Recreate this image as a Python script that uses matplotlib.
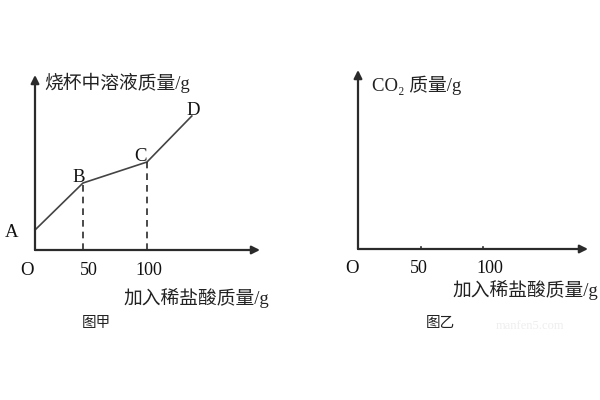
import matplotlib
matplotlib.use("Agg")
import matplotlib.pyplot as plt
import numpy as np

plt.rcParams['font.family'] = ['Liberation Serif', 'Noto Sans CJK SC', 'DejaVu Sans']

# curve in 图甲: acid added (g) vs solution mass (arbitrary units)
point_names = ['A', 'B', 'C', 'D']
acid_x = [0, 50, 100, 135]
solution_y = [20, 67, 88, 134]
tick_vals = [50, 100]
tick_labels = ['50', '100']

xlabel = '加入稀盐酸质量/g'
ylabel_left = '烧杯中溶液质量/g'
ylabel_right = 'CO₂ 质量/g'
titles = ['图甲', '图乙']

# the hand-drawn x axis of 图甲 is not evenly spaced
knots_val = [0, 50, 100, 300]
knots_pos = [0, 48, 112, 112 + 200 * 1.28]

fig = plt.figure(figsize=(6, 4), dpi=100)
ink = '#2b2b2b'


def draw_axes(ax, ymax):
    ax.set_ylim(0, ymax)
    for s in ax.spines.values():
        s.set_visible(False)
    ax.set_xticks([])
    ax.set_yticks([])
    ax.patch.set_alpha(0)
    ax.annotate('', xy=(1, 0), xytext=(0, 0), xycoords='axes fraction',
                arrowprops=dict(arrowstyle='-|>', color=ink, lw=1.6,
                                mutation_scale=12, shrinkA=0, shrinkB=0))
    ax.annotate('', xy=(0, 1), xytext=(0, 0), xycoords='axes fraction',
                arrowprops=dict(arrowstyle='-|>', color=ink, lw=1.6,
                                mutation_scale=12, shrinkA=0, shrinkB=0))


# left panel
ax1 = fig.add_axes([35 / 600, 150 / 400, 225 / 600, 175 / 400])
ax1.set_xscale('function', functions=(lambda v: np.interp(v, knots_val, knots_pos),
                                      lambda p: np.interp(p, knots_pos, knots_val)))
ax1.set_xlim(0, np.interp(225, knots_pos, knots_val))
draw_axes(ax1, 175)
ax1.plot(acid_x, solution_y, color='#444444', lw=1.2, clip_on=False)
for i in (1, 2):
    ax1.plot([acid_x[i], acid_x[i]], [0, solution_y[i]], color=ink,
             lw=1.2, ls=(0, (4, 3)))
offs = [(-17, -1.5), (-3, 4), (-5, 4), (1, 4)]
for name, x, y, (dx, dy) in zip(point_names, acid_x, solution_y, offs):
    ax1.annotate(name, (x, y), xytext=(dx, dy), textcoords='offset points',
                 fontsize=13.5, ha='center', va='center', color='#111111')
ax1.text(10, 167, ylabel_left, fontsize=13.5, color='#222222', va='center')

# right panel
ax2 = fig.add_axes([358 / 600, 151 / 400, 230 / 600, 179 / 400])
ax2.set_xlim(0, 230 / 1.25)
draw_axes(ax2, 179)
for tv in tick_vals:
    ax2.plot([tv, tv], [0, 2.5], color=ink, lw=1.2)
ax2.text(11, 164, ylabel_right, fontsize=13.5, color='#222222', va='center')

# tick label and x label placement (pixel offsets, per panel)
num_shift = {ax1: ([4, 1], -15), ax2: ([-1, 5], -14)}
o_shift = {ax1: (-6, -15), ax2: (-4, -14)}
xl_pos = {ax1: (1.04, -48), ax2: (1.045, -41)}
for ax in (ax1, ax2):
    ox, oy = o_shift[ax]
    ax.annotate('O', (0, 0), xytext=(ox, oy), textcoords='offset points',
                fontsize=13.5, ha='center', va='center', color='#111111')
    dxs, dy = num_shift[ax]
    for tv, tl, dx in zip(tick_vals, tick_labels, dxs):
        ax.annotate(tl, (tv, 0), xytext=(dx, dy), textcoords='offset points',
                    fontsize=13, ha='center', va='center', color='#111111')
    xx, yy = xl_pos[ax]
    ax.text(xx, yy, xlabel, transform=ax.get_yaxis_transform(),
            fontsize=13.5, ha='right', va='center', color='#222222')

fig.text(96 / 600, 1 - 324 / 400, titles[0], fontsize=10.5, ha='center',
         va='center', color='#222222')
fig.text(440 / 600, 1 - 324 / 400, titles[1], fontsize=10.5, ha='center',
         va='center', color='#222222')
fig.text(530 / 600, 1 - 326 / 400, 'manfen5.com', fontsize=9, ha='center',
         va='center', color='#eeeeee')

fig.savefig('out.png', dpi=100, facecolor='white')
